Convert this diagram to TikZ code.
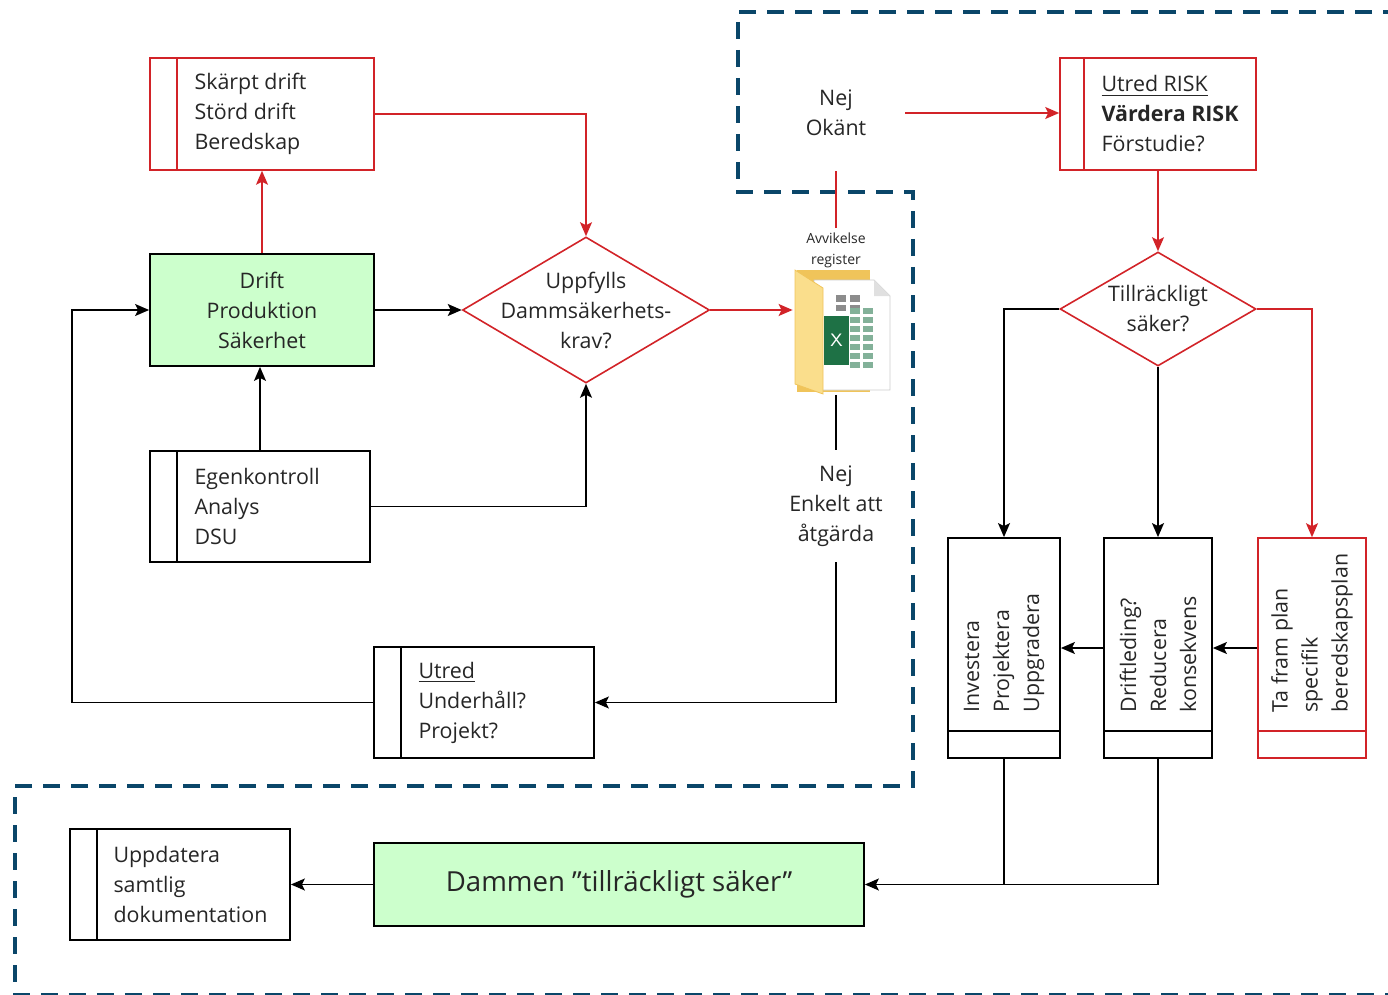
\documentclass[tikz,border=0pt]{standalone}
\usepackage{fontspec}
\setmainfont{Open Sans}
\usepackage{tikz}
\usetikzlibrary{arrows.meta,calc,shapes.geometric}
\definecolor{rod}{RGB}{210,35,40}
\definecolor{gron}{RGB}{204,255,204}
\definecolor{streck}{RGB}{10,70,105}
\definecolor{mapp}{RGB}{240,196,90}
\definecolor{mappljus}{RGB}{250,222,140}
\definecolor{excel}{RGB}{30,113,69}
\tikzset{
box/.style={draw=black, line width=0.9pt, rectangle, inner sep=0pt},
rbox/.style={draw=rod, line width=0.8pt, rectangle, inner sep=0pt},
rom/.style={diamond, draw=rod, line width=0.8pt, inner sep=0pt},
txt/.style={inner sep=0pt, align=left, text=black!85, font=\fontsize{10.7}{15}\selectfont},
ctxt/.style={txt, align=center},
pil/.style={-{Stealth[length=7pt,width=6pt,inset=1.5pt]}, line width=0.8pt, black},
rpil/.style={-{Stealth[length=7pt,width=6pt,inset=1.5pt]}, line width=0.8pt, rod},
rand/.style={draw=streck, line width=2pt, dash pattern=on 8.5pt off 5.5pt},
}

\begin{document}
\begin{tikzpicture}[x=0.5pt,y=-0.5pt]
    \useasboundingbox (0,0) rectangle (1388,995);

    %Omraden
    \draw[rand] (1400,12) -- (738,12) -- (738,192) -- (913,192) -- (913,786) -- (15,786) -- (15,995) -- (1400,995);

    % Vänster del
    \node[rbox, minimum width=112pt, minimum height=56pt] (skp) at (262,114) {};
    \draw[rod, line width=0.8pt] ($(skp.north west)+(28,0)$) -- ($(skp.south west)+(28,0)$);
    \node[txt, anchor=west] (skptxt) at ($(skp.west)+(45,0)$) {Skärpt drift\\Störd drift\\Beredskap};

    \node[box, fill=gron, minimum width=112pt, minimum height=56pt, ctxt] (drf) at (262,310) {Drift\\Produktion\\Säkerhet};

    \node[rom, minimum width=123.5pt, minimum height=73pt] (d1) at (586,310) {};
    \node[ctxt] (d1txt) at (d1) {Uppfylls\\Dammsäkerhets-\\krav?};

    \node[box, minimum width=110pt, minimum height=55.5pt] (egk) at (260,506.5) {};
    \draw[line width=0.9pt] ($(egk.north west)+(28,0)$) -- ($(egk.south west)+(28,0)$);
    \node[txt, anchor=west] (egktxt) at ($(egk.west)+(45,0)$) {Egenkontroll\\Analys\\DSU};

    \node[box, minimum width=110pt, minimum height=55.5pt] (utr) at (484,702.5) {};
    \draw[line width=0.9pt] ($(utr.north west)+(28,0)$) -- ($(utr.south west)+(28,0)$);
    \node[txt, anchor=west] (utrtxt) at ($(utr.west)+(45,0)$) {\underline{Utred}\\Underhåll?\\Projekt?};

    \node[box, minimum width=110pt, minimum height=55.5pt] (upd) at (180,884.5) {};
    \draw[line width=0.9pt] ($(upd.north west)+(28,0)$) -- ($(upd.south west)+(28,0)$);
    \node[txt, anchor=west] (updtxt) at ($(upd.west)+(44,0)$) {Uppdatera\\samtlig\\dokumentation};

    \node[box, fill=gron, minimum width=245pt, minimum height=41.5pt, ctxt, font=\fontsize{13.8}{16}\selectfont] (dam) at (619,884.5) {Dammen ”tillräckligt säker”};

    % Register
    \node[minimum width=43pt, minimum height=62.5pt, inner sep=0pt] (reg) at (836,332) {};
    \begin{scope}[shift={(reg.center)}]
        \fill[mapp] (-39,-62) rectangle (34,60);
        \filldraw[fill=white, draw=black!20, line width=0.4pt] (-22,-52) -- (38,-52) -- (54,-36) -- (54,58) -- (-22,58) -- cycle;
        \fill[black!12] (38,-52) -- (38,-36) -- (54,-36) -- cycle;
        \foreach \x in {0,14} {
            \fill[black!45] (\x,-37) rectangle ++(10,7);
            \fill[black!45] (\x,-27) rectangle ++(10,6);
        }
        \foreach \x in {14,27} {
            \foreach \y in {-24,-15,...,32} {
                \fill[excel!55] (\x,\y) rectangle ++(10,6);
            }
        }
        \fill[excel] (-12,-16) rectangle (13,33);
        \node[text=white, inner sep=0pt, font=\sffamily\fontsize{9}{9}\selectfont] (regx) at (0.5,8.5) {X};
        \filldraw[fill=mappljus, draw=mapp, line width=0.4pt] (-41,-62) -- (-13,-44) -- (-13,62) -- (-41,52) -- cycle;
    \end{scope}
    \node[ctxt, font=\fontsize{7}{10.5}\selectfont, inner sep=2pt] (avl) at (836,250) {Avvikelse\\register};

    \node[ctxt, minimum width=69pt, minimum height=58pt] (nok) at (836,113) {Nej\\Okänt};
    \node[ctxt, minimum width=50pt, minimum height=56pt] (nek) at (836,506) {Nej\\Enkelt att\\åtgärda};

    % Höger del
    \node[rbox, minimum width=98pt, minimum height=56pt] (urk) at (1158,114) {};
    \draw[rod, line width=0.8pt] ($(urk.north west)+(25,0)$) -- ($(urk.south west)+(25,0)$);
    \node[txt, anchor=west] (urktxt) at ($(urk.west)+(42,0)$) {\underline{Utred RISK}\\\textbf{Värdera RISK}\\Förstudie?};

    \node[rom, minimum width=98pt, minimum height=57pt] (d2) at (1158,309) {};
    \node[ctxt] (d2txt) at (d2) {Tillräckligt\\säker?};

    \node[box, minimum width=56pt, minimum height=110pt] (inv) at (1004,648) {};
    \node[box, minimum width=54pt, minimum height=110pt] (drl) at (1158,648) {};
    \node[rbox, minimum width=54pt, minimum height=110pt] (tfp) at (1312,648) {};
    \draw[line width=0.9pt] ($(inv.south west)+(0,-28)$) -- ($(inv.south east)+(0,-28)$);
    \draw[line width=0.9pt] ($(drl.south west)+(0,-28)$) -- ($(drl.south east)+(0,-28)$);
    \draw[rod, line width=0.8pt] ($(tfp.south west)+(0,-28)$) -- ($(tfp.south east)+(0,-28)$);
    \node[txt, rotate=90, anchor=west] (invtxt) at ($(inv.south)+(0,-46)$) {Investera\\Projektera\\Uppgradera};
    \node[txt, rotate=90, anchor=west] (drltxt) at ($(drl.south)+(0,-46)$) {Driftleding?\\Reducera\\konsekvens};
    \node[txt, rotate=90, anchor=west] (tfptxt) at ($(tfp.south)+(0,-46)$) {Ta fram plan\\specifik\\beredskapsplan};

    % Pilar
    \draw[rpil] (drf.north) -- (skp.south);
    \draw[rpil] (skp.east) -| (d1.north);
    \draw[pil] (drf.east) -- (d1.west);
    \draw[pil] (egk.north) -- (egk.north |- drf.south);
    \draw[pil] (egk.east) -| (d1.south);
    \draw[rpil] (d1.east) -- (d1.east -| reg.west);
    \draw[rod, line width=0.8pt] (avl.north) -- (nok.south);
    \draw[rpil] (nok.east) -- (nok.east -| urk.west);
    \draw[line width=0.8pt] (reg.south) -- (nek.north);
    \draw[pil] (nek.south) |- (utr.east);
    \coordinate (ret) at (72,702.5);
    \draw[pil] (utr.west) -- (ret) |- (drf.west);
    \draw[rpil] (urk.south) -- (d2.north);
    \draw[pil] (d2.west) -| (inv.north);
    \draw[pil] (d2.south) -- (drl.north);
    \draw[rpil] (d2.east) -| (tfp.north);
    \draw[pil] (tfp.west) -- (drl.east);
    \draw[pil] (drl.west) -- (inv.east);
    \draw[line width=0.8pt] (inv.south) -- (inv.south |- dam.east);
    \draw[pil] (drl.south) |- (dam.east);
    \draw[pil] (dam.west) -- (upd.east);
\end{tikzpicture}
\end{document}
